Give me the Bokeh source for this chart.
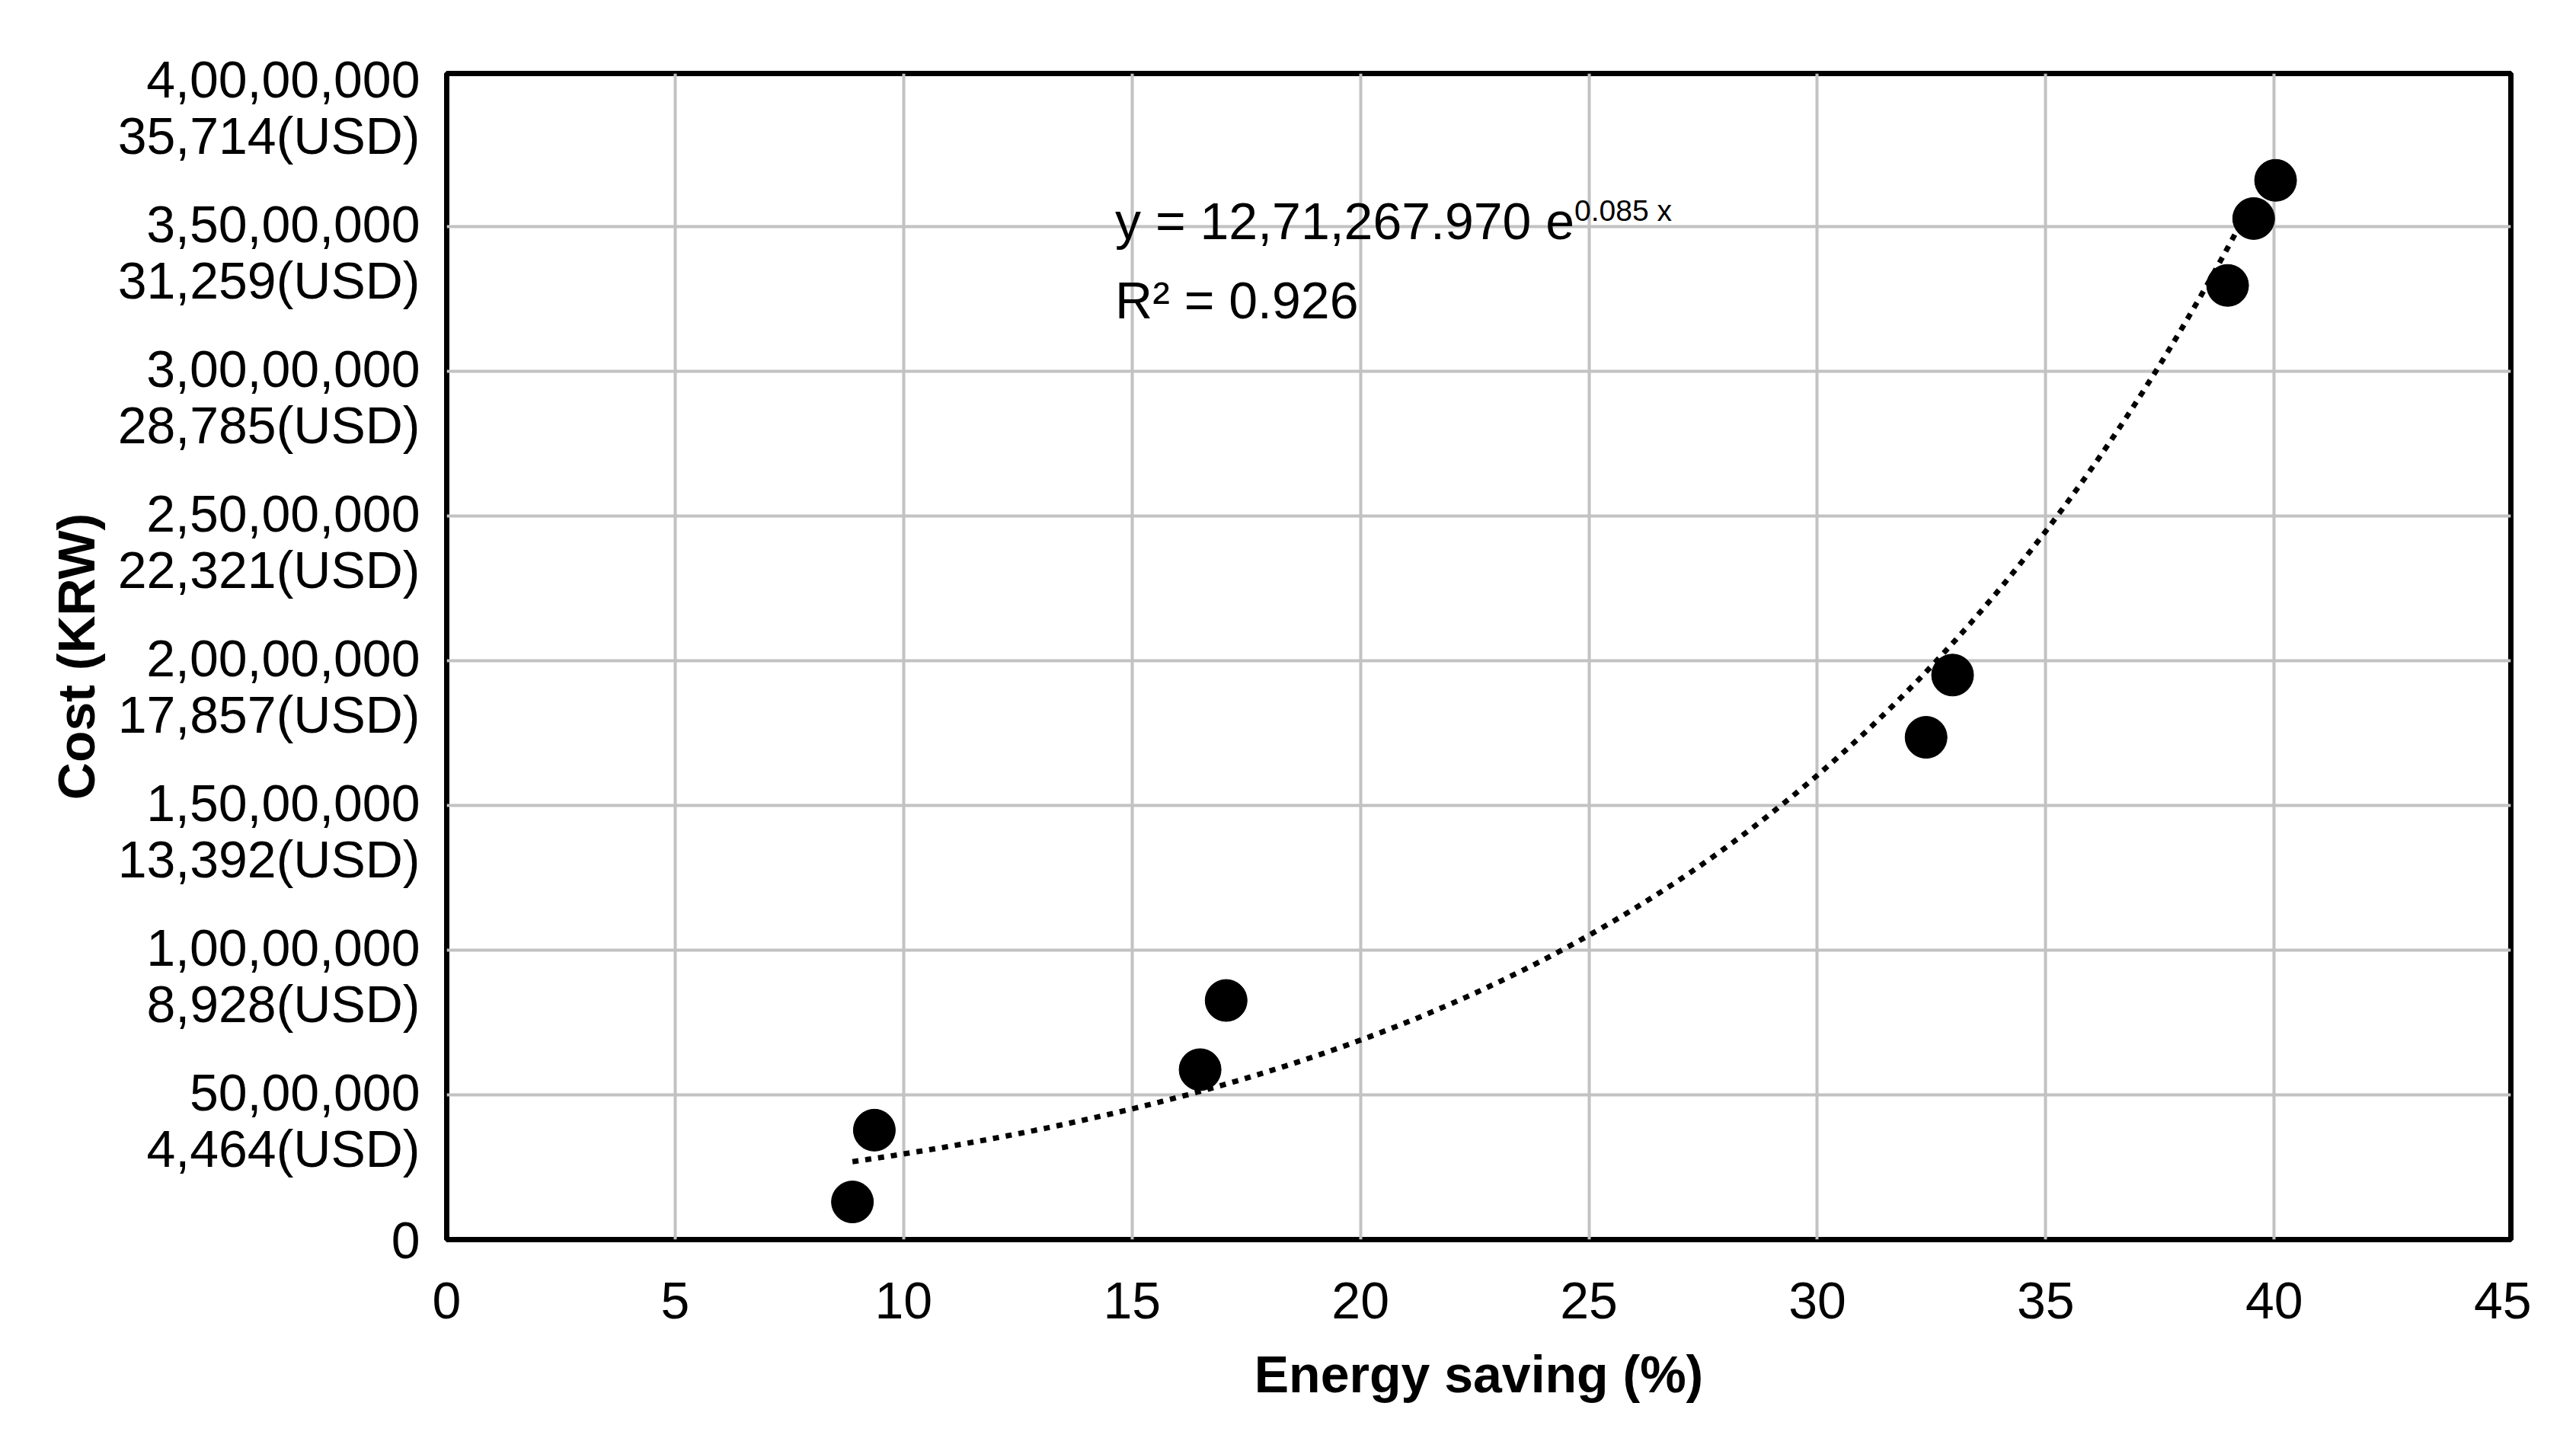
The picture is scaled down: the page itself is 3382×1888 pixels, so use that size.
import numpy as np
from bokeh.plotting import figure
from bokeh.models import Range1d, FixedTicker
from bokeh.core.properties import value
from bokeh.embed import file_html
from bokeh.resources import INLINE

# ---- data ----
energy_saving = [8.88, 9.36, 16.49, 17.06, 32.38, 32.96, 38.98, 39.55, 40.03]
cost_krw = [1.30e6, 3.78e6, 5.87e6, 8.26e6, 17.35e6, 19.50e6, 32.96e6, 35.27e6, 36.59e6]

x_ticks = [0, 5, 10, 15, 20, 25, 30, 35, 40, 45]
y_ticks = [0, 5000000, 10000000, 15000000, 20000000, 25000000, 30000000, 35000000, 40000000]
y_labels_krw = ["0", "50,00,000", "1,00,00,000", "1,50,00,000", "2,00,00,000",
                "2,50,00,000", "3,00,00,000", "3,50,00,000", "4,00,00,000"]
y_labels_usd = ["", "4,464(USD)", "8,928(USD)", "13,392(USD)", "17,857(USD)",
                "22,321(USD)", "28,785(USD)", "31,259(USD)", "35,714(USD)"]

# exponential trendline y = a * exp(b x) (label shows b rounded to 0.085)
trend_a = 1271267.970
trend_b = 0.0845
trend_x_start = 8.88
trend_x_end = 39.3

eq_text = "y = 12,71,267.970 e"
eq_sup = "0.085 x"
r2_text = "R\u00b2 = 0.926"

FONT = "Liberation Sans"
FS = "68px"

X_END = 45.18
Y_END = 40.28e6
# half a label line, in data units: puts the KRW line on the tick, USD line below
LABEL_SHIFT = 890000

p = figure(width=3366, height=1872, output_backend="svg", toolbar_location=None,
           x_range=Range1d(0, X_END), y_range=Range1d(0, Y_END),
           min_border_left=586, min_border_right=70, min_border_top=96,
           min_border_bottom=245)
p.extra_y_ranges = {"labels": Range1d(LABEL_SHIFT - 1, Y_END + LABEL_SHIFT - 1)}
p.background_fill_color = "white"
p.border_fill_color = "white"
p.outline_line_color = "black"
p.outline_line_width = 7

# grids (inner lines only; frame border covers the edges)
p.xgrid.ticker = FixedTicker(ticks=x_ticks[1:-1])
p.ygrid.ticker = FixedTicker(ticks=y_ticks[1:-1])
for g in (p.xgrid, p.ygrid):
    g.grid_line_color = "#c2c2c2"
    g.grid_line_width = 4

# axes
p.xaxis.ticker = FixedTicker(ticks=x_ticks)
yax = p.yaxis[0]
yax.y_range_name = "labels"
label_ticks = [LABEL_SHIFT] + y_ticks[1:]
overrides = {}
for t, k, u in zip(label_ticks, y_labels_krw, y_labels_usd):
    overrides[t] = (k + "\n" + u) if u else k
yax.ticker = FixedTicker(ticks=label_ticks)
yax.major_label_overrides = overrides
for ax in (p.xaxis[0], yax):
    ax.axis_line_color = None
    ax.major_tick_out = 0
    ax.major_tick_in = 0
    ax.minor_tick_out = 0
    ax.minor_tick_in = 0
    ax.major_label_text_font = FONT
    ax.major_label_text_font_size = FS
    ax.major_label_text_color = "black"
    ax.axis_label_text_font = FONT
    ax.axis_label_text_font_size = FS
    ax.axis_label_text_font_style = "bold"
    ax.axis_label_text_color = "black"
yax.major_label_text_line_height = 0.97
p.xaxis.major_label_standoff = 56
yax.major_label_standoff = 35
p.xaxis.axis_label = "Energy saving (%)"
yax.axis_label = "Cost (KRW)"
p.xaxis.axis_label_standoff = 32
yax.axis_label_standoff = 14

# trendline
tx = np.linspace(trend_x_start, trend_x_end, 200)
ty = trend_a * np.exp(trend_b * tx)
p.line(tx, ty, line_color="black", line_width=7, line_dash="8 9")

# data points
p.scatter(energy_saving, cost_krw, size=55, fill_color="black", line_color="black")

# equation text
p.text(x=[14.63], y=[35.2e6], text=[eq_text], text_font=value(FONT),
       text_font_size=FS, text_color="black", text_baseline="alphabetic",
       text_align="left")
p.text(x=[14.63], y=[35.2e6], text=[eq_sup], text_font=value(FONT),
       text_font_size="39px", text_color="black", text_baseline="alphabetic",
       text_align="left", x_offset=603, y_offset=-13)
p.text(x=[14.63], y=[32.45e6], text=[r2_text], text_font=value(FONT),
       text_font_size=FS, text_color="black", text_baseline="alphabetic",
       text_align="left")

open("out.html", "w").write(file_html(p, INLINE))
